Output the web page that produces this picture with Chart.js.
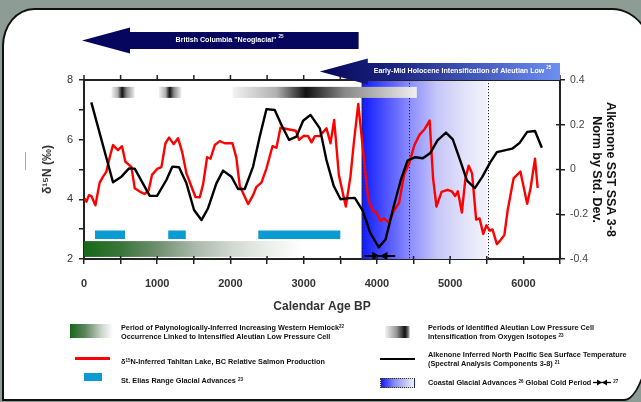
<!DOCTYPE html>
<html>
<head>
<meta charset="utf-8">
<script src="https://cdn.jsdelivr.net/npm/chart.js@4.4.0/dist/chart.umd.min.js"></script>
<style>
html, body { margin: 0; padding: 0; }
body { width: 641px; height: 402px; overflow: hidden; position: relative; background: #8d9c95; font-family: "Liberation Sans", Arial, sans-serif; }
#panel { position: absolute; left: 2px; top: 8px; width: 650px; height: 389px; background: #fff; border: 2px solid #111; border-radius: 32px 44px 32px 0 / 38px 56px 120px 0; }
#chart { position: absolute; left: 0; top: 0; }
.sw { position: absolute; }
.lt { position: absolute; font-weight: bold; font-size: 7.3px; line-height: 9.4px; color: #111; white-space: nowrap; }
.lt sup { font-size: 4.5px; position: relative; top: -1px; vertical-align: top; }
#dash { position: absolute; left: 25px; top: 152px; width: 1px; height: 18px; background: #aaa; }
</style>
</head>
<body>
<div id="panel"></div>
<div id="dash"></div>
<canvas id="chart" width="641" height="402"></canvas>

<div class="sw" style="left:70px;top:324px;width:43px;height:14px;background:linear-gradient(90deg,#176717,#5e855e 35%,#cfd8cf 75%,#fff)"></div>
<div class="lt" style="left:121px;top:322.5px">Period of Palynologically-Inferred Increasing Western Hemlock<sup>22</sup><br>Occurrence Linked to Intensified Aleutian Low Pressure Cell</div>
<div class="sw" style="left:75px;top:357px;width:35px;height:2.5px;background:#ff0000"></div>
<div class="lt" style="left:121px;top:357px">δ<sup>15</sup>N-Inferred Tahltan Lake, BC Relative Salmon Production</div>
<div class="sw" style="left:84px;top:373px;width:18px;height:8px;background:#0a9bd0"></div>
<div class="lt" style="left:121px;top:376px">St. Elias Range Glacial Advances <sup>23</sup></div>

<div class="sw" style="left:385px;top:326px;width:25px;height:12px;background:linear-gradient(90deg,#f4f4f4,#999 45%,#111 80%,#777 93%,#eee)"></div>
<div class="lt" style="left:428px;top:322.5px">Periods of Identified Aleutian Low Pressure Cell<br>Intensification from Oxygen Isotopes <sup>23</sup></div>
<div class="sw" style="left:380px;top:357.5px;width:35px;height:2.5px;background:#000"></div>
<div class="lt" style="left:428px;top:349.5px">Alkenone Inferred North Pacific Sea Surface Temperature<br>(Spectral Analysis Components 3-8) <sup>21</sup></div>
<div class="sw" style="left:380px;top:378px;width:33px;height:8px;border:1px dotted #333;background:linear-gradient(90deg,#0f19ff,#8789ff 40%,#f2f2fc)"></div>
<div class="lt" style="left:428px;top:378px">Coastal Glacial Advances <sup>26</sup> Global Cold Period
<svg width="18" height="7" style="vertical-align:-1px"><line x1="0" y1="3.5" x2="18" y2="3.5" stroke="#000" stroke-width="1.3"/><polygon points="4,0.5 9,3.5 4,6.5" fill="#000"/><polygon points="14,0.5 9,3.5 14,6.5" fill="#000"/></svg> <sup>27</sup></div>

<script>
// Calendar age (yr BP) and values
const salmonAge = [10, 33, 68, 101, 156, 214, 260, 306, 351, 396, 464, 519, 565, 647, 693, 761, 829, 884, 929, 998,
  1057, 1112, 1161, 1225, 1284, 1339, 1399, 1467, 1522, 1581, 1626, 1681, 1727, 1786, 1854, 1922, 2027, 2080, 2127, 2241,
  2309, 2355, 2423, 2492, 2574, 2628, 2683, 2787, 2892, 2937, 3001, 3060, 3107, 3152, 3220, 3311, 3366, 3416, 3480, 3575,
  3639, 3684, 3745, 3837, 3885, 3945, 3992, 4048, 4094, 4163, 4232, 4302, 4372, 4441, 4511, 4581, 4651, 4720, 4767, 4813,
  4883, 4966, 5022, 5068, 5105, 5160, 5208, 5253, 5299, 5355, 5402, 5452, 5495, 5541, 5578, 5638, 5684, 5740, 5787, 5866,
  5959, 6052, 6098, 6159, 6195];
const salmonN15 = [4.03, 3.92, 4.14, 4.11, 3.80, 4.56, 4.76, 4.93, 5.41, 5.82, 5.65, 5.78, 5.26, 5.09, 4.37, 4.26, 4.18, 4.31, 4.82, 5.02,
  5.08, 5.88, 6.07, 5.85, 6.05, 5.60, 4.87, 4.43, 4.08, 4.07, 4.50, 5.41, 5.36, 5.82, 5.95, 5.88, 5.88, 5.40, 4.45, 3.84,
  4.14, 4.42, 4.56, 5.04, 5.78, 5.73, 6.40, 6.35, 6.30, 5.99, 6.13, 6.12, 5.91, 6.12, 6.12, 6.38, 5.88, 6.66, 4.82, 3.76,
  4.77, 5.88, 7.20, 5.00, 3.96, 3.62, 3.56, 3.28, 3.36, 3.22, 3.62, 3.88, 4.84, 5.21, 5.81, 6.16, 6.35, 6.64, 4.70, 3.76,
  4.25, 4.32, 4.27, 4.11, 4.27, 3.56, 4.69, 5.13, 4.87, 3.32, 3.36, 2.84, 3.13, 2.95, 2.99, 2.50, 2.62, 2.80, 3.66, 4.70,
  4.93, 3.85, 4.38, 5.36, 4.38];

const sstAge = [100, 396, 511, 615, 693, 898, 998, 1125, 1207, 1298, 1399, 1503, 1604, 1694, 1808, 1899, 2013, 2104, 2195, 2309,
  2400, 2492, 2605, 2697, 2801, 2901, 2992, 3093, 3220, 3311, 3411, 3503, 3585, 3698, 3806, 3909, 4025, 4118, 4232, 4325,
  4418, 4521, 4627, 4730, 4827, 4943, 5036, 5138, 5230, 5337, 5439, 5545, 5638, 5847, 5949, 6052, 6159, 6252];
const sstAnomaly = [0.30, -0.057, -0.032, 0.005, 0.004, -0.118, -0.118, -0.047, 0.013, 0.010, -0.062, -0.181, -0.226, -0.173, -0.062, -0.005, -0.032, -0.087, -0.087, 0.013,
  0.147, 0.270, 0.266, 0.199, 0.132, 0.147, 0.218, 0.244, 0.184, 0.042, -0.074, -0.133, -0.129, -0.127, -0.184, -0.283, -0.348, -0.313, -0.161, -0.048,
  0.040, 0.055, 0.050, 0.074, 0.130, 0.165, 0.135, 0.040, -0.050, -0.083, -0.033, 0.031, 0.078, 0.093, 0.119, 0.168, 0.172, 0.097];

const xTicks = [0, 1000, 2000, 3000, 4000, 5000, 6000];
const leftTicks = [2, 4, 6, 8];
const rightTicks = [-0.4, -0.2, 0, 0.2, 0.4];

// periods, in yr BP
const stEliasAdvances = [[150, 560], [1150, 1390], [2380, 3500]];
const hemlockPeriod = [0, 3000];                 // dark green -> faded out
const aleutianPeriods = [[374, 520, 693], [1024, 1171, 1330], [2031, 3030, 4545]]; // start, strongest, end
const coastalAdvance = [3790, 5510];
const coastalLines = [3790, 4440, 5510];
const coldPeriod = [3830, 4250];
const coldPeriodHeads = [3970, 4110];
const neoglacialArrow = [0, 3750];                // tip, tail
const aleutianArrow = [3220, 6500];

const salmonData = salmonAge.map((a, i) => ({x: a, y: salmonN15[i]}));
const sstData = sstAge.map((a, i) => ({x: a, y: sstAnomaly[i]}));

const stEliasLevel = 2.81;
const stEliasData = [];
stEliasAdvances.forEach(([s, e]) => {
    stEliasData.push({x: s, y: stEliasLevel}, {x: e, y: stEliasLevel}, {x: e, y: null});
});

const coldLevel = 2.1;
const coldData = [coldPeriod[0], coldPeriodHeads[0], coldPeriodHeads[1], coldPeriod[1]].map(a => ({x: a, y: coldLevel}));

function drawArrow(ctx, tip, tail, cy, fill) {
    const hl = 48, hh = 13, bh = 8.5;
    ctx.beginPath();
    ctx.moveTo(tip, cy);
    ctx.lineTo(tip + hl, cy - hh);
    ctx.lineTo(tip + hl, cy - bh);
    ctx.lineTo(tail, cy - bh);
    ctx.lineTo(tail, cy + bh);
    ctx.lineTo(tip + hl, cy + bh);
    ctx.lineTo(tip + hl, cy + hh);
    ctx.closePath();
    ctx.fillStyle = fill;
    ctx.fill();
}

function arrowText(ctx, text, sup, cx, cy) {
    ctx.font = 'bold 7.1px "Liberation Sans", Arial, sans-serif';
    const w = ctx.measureText(text).width;
    ctx.fillStyle = '#fff';
    ctx.textBaseline = 'middle';
    ctx.textAlign = 'left';
    ctx.fillText(text, cx - w / 2, cy);
    ctx.font = 'bold 4.5px "Liberation Sans", Arial, sans-serif';
    ctx.fillText(sup, cx + w / 2 + 2, cy - 4);
}

const bandsPlugin = {
    id: 'bands',
    beforeDatasetsDraw(chart) {
        const {ctx, chartArea: a, scales: {x, y}} = chart;
        ctx.save();

        // coastal glacial advances
        const b0 = x.getPixelForValue(coastalAdvance[0]);
        const b1 = x.getPixelForValue(coastalAdvance[1]);
        let g = ctx.createLinearGradient(b0, 0, b1, 0);
        g.addColorStop(0, 'rgb(15,25,255)');
        g.addColorStop(0.2, 'rgb(80,85,255)');
        g.addColorStop(0.37, 'rgb(135,137,255)');
        g.addColorStop(0.6, 'rgb(198,198,248)');
        g.addColorStop(0.82, 'rgb(226,226,250)');
        g.addColorStop(1, 'rgb(243,243,252)');
        ctx.fillStyle = g;
        ctx.fillRect(b0, a.top, b1 - b0, a.bottom - a.top);

        ctx.strokeStyle = '#222';
        ctx.lineWidth = 1;
        ctx.setLineDash([1.2, 1.8]);
        coastalLines.forEach(v => {
            const px = Math.round(x.getPixelForValue(v)) + 0.5;
            ctx.beginPath();
            ctx.moveTo(px, a.top);
            ctx.lineTo(px, a.bottom);
            ctx.stroke();
        });
        ctx.setLineDash([]);

        // western hemlock bar
        const h0 = x.getPixelForValue(hemlockPeriod[0]);
        const h1 = x.getPixelForValue(hemlockPeriod[1]);
        g = ctx.createLinearGradient(h0, 0, h1, 0);
        g.addColorStop(0, '#176717');
        g.addColorStop(0.17, '#3a763a');
        g.addColorStop(0.33, '#6e8e6e');
        g.addColorStop(0.5, '#a8b8a8');
        g.addColorStop(0.67, '#d0d8d0');
        g.addColorStop(0.83, '#eaeeea');
        g.addColorStop(1, '#ffffff');
        ctx.fillStyle = g;
        const gy0 = y.getPixelForValue(2.6), gy1 = y.getPixelForValue(2.07);
        ctx.fillRect(h0, gy0, h1 - h0, gy1 - gy0);

        // aleutian low periods
        const ay0 = y.getPixelForValue(7.77), ay1 = y.getPixelForValue(7.4);
        aleutianPeriods.forEach(([s, p, e]) => {
            const p0 = x.getPixelForValue(s), p1 = x.getPixelForValue(e);
            const gg = ctx.createLinearGradient(p0, 0, p1, 0);
            const f = (p - s) / (e - s);
            gg.addColorStop(0, '#f2f2f2');
            gg.addColorStop(f * 0.6, '#b0b0b0');
            gg.addColorStop(f, '#111');
            gg.addColorStop(f + (1 - f) * 0.35, '#888');
            gg.addColorStop(1, '#f0f0f0');
            ctx.fillStyle = gg;
            ctx.fillRect(p0, ay0, p1 - p0, ay1 - ay0);
        });
        ctx.restore();
    },
    afterDraw(chart) {
        const {ctx, chartArea: a, scales: {x, y2}} = chart;
        ctx.save();
        // top frame with ticks
        ctx.strokeStyle = '#222';
        ctx.lineWidth = 2;
        ctx.beginPath();
        ctx.moveTo(a.left - 1, a.top);
        ctx.lineTo(a.right + 1, a.top);
        ctx.stroke();
        ctx.lineWidth = 1.5;
        x.ticks.forEach(t => {
            const px = x.getPixelForValue(t.value);
            ctx.beginPath();
            ctx.moveTo(px, a.top - 5);
            ctx.lineTo(px, a.top);
            ctx.moveTo(px, a.bottom);
            ctx.lineTo(px, a.bottom - 3);
            ctx.stroke();
        });
        y2.ticks.forEach(t => {
            const py = y2.getPixelForValue(t.value);
            ctx.beginPath();
            ctx.moveTo(a.right, py);
            ctx.lineTo(a.right - 4, py);
            ctx.stroke();
        });

        // arrows above the plot
        drawArrow(ctx, x.getPixelForValue(neoglacialArrow[0]) - 2, x.getPixelForValue(neoglacialArrow[1]), 40.5, '#06065e');
        const t0 = x.getPixelForValue(aleutianArrow[0]), t1 = x.getPixelForValue(aleutianArrow[1]);
        const ag = ctx.createLinearGradient(t0, 0, t1, 0);
        ag.addColorStop(0, '#07075a');
        ag.addColorStop(0.3, '#1a237e');
        ag.addColorStop(1, '#6d8ff3');
        drawArrow(ctx, t0, t1, 71.5, ag);
        arrowText(ctx, 'British Columbia "Neoglacial"', '25', 226, 40.5);
        arrowText(ctx, 'Early-Mid Holocene Intensification of Aleutian Low', '25', 459, 71.5);
        ctx.restore();
    }
};

const ctx = document.getElementById('chart').getContext('2d');
const chart = new Chart(ctx, {
    type: 'line',
    data: {
        datasets: [
            {
                label: 'Alkenone SST',
                data: sstData,
                yAxisID: 'y2',
                borderColor: '#000',
                borderWidth: 2.4,
                borderJoinStyle: 'round',
                pointRadius: 0,
                tension: 0
            },
            {
                label: 'δ15N',
                data: salmonData,
                yAxisID: 'y',
                borderColor: '#ff0000',
                borderWidth: 2.4,
                borderJoinStyle: 'round',
                pointRadius: 0,
                tension: 0
            },
            {
                label: 'Global Cold Period',
                data: coldData,
                yAxisID: 'y',
                borderColor: '#000',
                backgroundColor: '#000',
                borderWidth: 2,
                pointStyle: 'triangle',
                pointRadius: [0, 5, 5, 0],
                pointRotation: [0, 90, 270, 0],
                pointBorderWidth: 0
            },
            {
                label: 'St. Elias Range Glacial Advances',
                data: stEliasData,
                yAxisID: 'y',
                borderColor: '#0a9bd0',
                borderWidth: 8.5,
                borderCapStyle: 'butt',
                pointRadius: 0,
                spanGaps: false
            }
        ]
    },
    options: {
        responsive: false,
        animation: false,
        devicePixelRatio: 1,
        layout: { padding: { left: 34, top: 80, right: 11, bottom: 83 } },
        plugins: {
            legend: { display: false },
            tooltip: { enabled: false }
        },
        scales: {
            x: {
                type: 'linear',
                min: 0,
                max: 6500,
                afterFit: s => { s.height = 60; },
                ticks: {
                    stepSize: 500,
                    autoSkip: false,
                    maxRotation: 0,
                    padding: 13,
                    color: '#333',
                    font: { size: 11, weight: 'bold', family: '"Liberation Sans", Arial, sans-serif' },
                    callback: v => xTicks.includes(v) ? String(v) : ''
                },
                grid: { drawOnChartArea: false, color: '#222', lineWidth: 1.5, tickLength: 5 },
                border: { color: '#222', width: 2 },
                title: {
                    display: true,
                    text: 'Calendar Age BP',
                    color: '#333',
                    font: { size: 12, weight: 'bold', family: '"Liberation Sans", Arial, sans-serif' },
                    padding: { top: 0, bottom: 5 }
                }
            },
            y: {
                position: 'left',
                min: 2,
                max: 8,
                afterFit: s => { s.width = 50; },
                ticks: {
                    stepSize: 1,
                    padding: 6,
                    color: '#333',
                    font: { size: 11, family: '"Liberation Sans", Arial, sans-serif' },
                    callback: v => leftTicks.includes(v) ? String(v) : ''
                },
                grid: { drawOnChartArea: false, color: '#222', lineWidth: 1.5, tickLength: 5 },
                border: { color: '#222', width: 2 },
                title: {
                    display: true,
                    text: 'δ¹⁵N (‰)',
                    color: '#333',
                    font: { size: 12, weight: 'bold', family: '"Liberation Sans", Arial, sans-serif' },
                    padding: { top: 6, bottom: 0 }
                }
            },
            y2: {
                position: 'right',
                min: -0.4,
                max: 0.4,
                afterFit: s => { s.width = 70; },
                ticks: {
                    stepSize: 0.2,
                    padding: 5,
                    color: '#444',
                    font: { size: 10.5, family: '"Liberation Sans", Arial, sans-serif' },
                    callback: v => rightTicks.some(t => Math.abs(t - v) < 1e-9) ? String(+v.toFixed(1)) : ''
                },
                grid: { drawOnChartArea: false, color: '#222', lineWidth: 1.5, tickLength: 5 },
                border: { color: '#222', width: 2 },
                title: {
                    display: true,
                    text: ['Alkenone SST SSA 3-8', 'Norm by Std. Dev.'],
                    color: '#111',
                    font: { size: 12.5, weight: 'bold', lineHeight: 1.15, family: '"Liberation Sans", Arial, sans-serif' },
                    padding: { top: 12, bottom: 0 }
                }
            }
        }
    },
    plugins: [bandsPlugin]
});
</script>
</body>
</html>
